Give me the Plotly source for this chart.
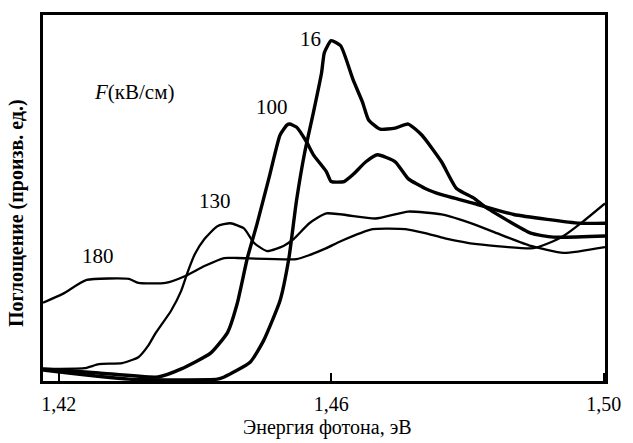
import plotly.graph_objects as go

# Photon energy (eV) and absorption (arb. units) for each field strength F (kV/cm)
e_180 = [1.4177, 1.4206, 1.4241, 1.4303, 1.4317, 1.4357, 1.4386, 1.4414, 1.4443, 1.4462,
         1.4549, 1.4568, 1.4593, 1.4614, 1.4661, 1.4709, 1.4738, 1.4767, 1.4814, 1.4897,
         1.4926, 1.4941, 1.4970, 1.5002]
a_180 = [21.4, 23.8, 27.6, 27.9, 26.8, 26.8, 28.7, 31.4, 33.6, 33.6,
         33.3, 34.4, 36.3, 38.2, 41.5, 41.5, 40.4, 39.0, 37.4, 36.3,
         38.2, 39.6, 43.6, 48.5]

e_130 = [1.4177, 1.4238, 1.4259, 1.4293, 1.4317, 1.4332, 1.4342, 1.4365, 1.4380, 1.4390,
         1.4400, 1.4414, 1.4433, 1.4452, 1.4472, 1.4487, 1.4506, 1.4530, 1.4545, 1.4568,
         1.4593, 1.4665, 1.4713, 1.4762, 1.4810, 1.4843, 1.4893, 1.4941, 1.5002]
a_130 = [3.3, 3.5, 4.6, 4.9, 6.5, 9.8, 13.0, 19.2, 24.7, 30.1,
         34.7, 38.8, 42.3, 43.1, 41.7, 37.7, 35.5, 36.9, 38.8, 43.1,
         45.8, 44.4, 46.3, 45.5, 42.8, 40.4, 36.9, 35.0, 36.6]

e_100 = [1.4177, 1.4259, 1.4346, 1.4380, 1.4423, 1.4448, 1.4462, 1.4477, 1.4491, 1.4510,
         1.4525, 1.4535, 1.4539, 1.4549, 1.4564, 1.4574, 1.4593, 1.4600, 1.4619, 1.4632,
         1.4651, 1.4668, 1.4694, 1.4713, 1.4738, 1.4762, 1.4810, 1.4868, 1.4965, 1.5002]
a_100 = [3.3, 2.2, 1.1, 3.3, 7.6, 13.3, 21.1, 33.6, 42.8, 56.4,
         67.2, 69.9, 70.2, 69.4, 65.3, 61.8, 57.2, 54.5, 54.5, 56.4,
         59.9, 61.8, 59.9, 55.3, 52.6, 50.9, 48.5, 45.5, 43.1, 43.1]

e_16 = [1.4177, 1.4303, 1.4433, 1.4443, 1.4481, 1.4501, 1.4525, 1.4538, 1.4549, 1.4561,
        1.4574, 1.4586, 1.4590, 1.4600, 1.4614, 1.4632, 1.4646, 1.4655, 1.4672, 1.4694,
        1.4713, 1.4733, 1.4762, 1.4784, 1.4810, 1.4825, 1.4893, 1.4926, 1.5002]
a_16 = [3.0, 0.5, 0.5, 1.1, 5.1, 11.1, 22.0, 33.6, 49.1, 62.3,
        73.4, 84.3, 89.7, 93.0, 91.6, 82.4, 76.2, 71.3, 68.8, 69.1,
        70.2, 67.2, 59.9, 52.6, 49.9, 47.7, 40.4, 39.3, 39.6]

tick_vals = [1.42, 1.46, 1.50]
tick_text = ["1,42", "1,46", "1,50"]

# Curve labels: text, energy, absorption
labels = [("180", 1.4257, 34.1), ("130", 1.4430, 49.1),
          ("100", 1.4513, 74.8), ("16", 1.4570, 93.5)]

SERIF = "Liberation Serif"

fig = go.Figure()
series = [(e_180, a_180, 2.3), (e_130, a_130, 2.3), (e_100, a_100, 3.4), (e_16, a_16, 3.4)]
for ex, ay, w in series:
    fig.add_trace(go.Scatter(x=ex, y=ay, mode="lines",
                             line=dict(color="black", width=w, shape="spline", smoothing=0.5),
                             showlegend=False, hoverinfo="skip"))

for txt, ex, ay in labels:
    fig.add_annotation(x=ex, y=ay, text=txt, showarrow=False,
                       font=dict(family=SERIF, size=21, color="black"))

fig.add_annotation(x=1.4310, y=78.9, text="<i>F</i>(кВ/см)", showarrow=False,
                   font=dict(family=SERIF, size=21, color="black"))

# Axis titles placed as free text
fig.add_annotation(xref="paper", yref="paper", x=0.506, y=-0.165, yanchor="bottom",
                   text="Энергия фотона, эВ", showarrow=False,
                   font=dict(family=SERIF, size=20, color="black"))
fig.add_annotation(xref="paper", yref="paper", x=-0.047, y=0.458, xanchor="center",
                   text="<b>Поглощение (произв. ед.)</b>", textangle=-90, showarrow=False,
                   font=dict(family=SERIF, size=20, color="black"))

fig.update_layout(
    width=633, height=443,
    margin=dict(l=43, r=21, t=12, b=62),
    paper_bgcolor="white", plot_bgcolor="white",
    xaxis=dict(range=[1.4177, 1.5002], tickvals=tick_vals, ticktext=tick_text,
               ticks="inside", ticklen=8, tickwidth=2, tickcolor="black",
               ticklabelstandoff=3,
               showline=True, linewidth=3, linecolor="black", mirror=True,
               showgrid=False, zeroline=False,
               tickfont=dict(family=SERIF, size=20, color="black")),
    yaxis=dict(range=[0, 100], showticklabels=False, ticks="",
               showline=True, linewidth=3, linecolor="black", mirror=True,
               showgrid=False, zeroline=False),
)

fig.write_html("out.html")
